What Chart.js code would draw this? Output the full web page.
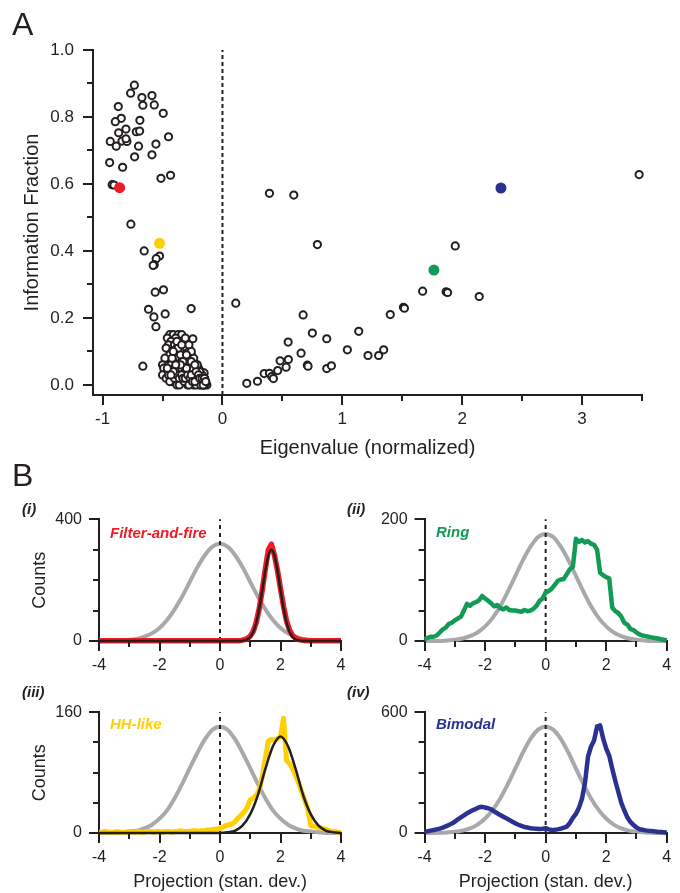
<!DOCTYPE html>
<html><head><meta charset="utf-8">
<script src="https://cdn.jsdelivr.net/npm/chart.js@4.4.1/dist/chart.umd.min.js"></script>
<style>
html,body{margin:0;padding:0;background:#fff;}
#fig{position:relative;width:680px;height:893px;overflow:hidden;font-family:"Liberation Sans",Arial,Helvetica,sans-serif;color:#231f20;}
canvas{position:absolute;}
.lbl{position:absolute;line-height:1;white-space:nowrap;z-index:5;}
.big{font-size:32px;}
.sub{font-size:15px;font-weight:bold;font-style:italic;}
</style></head><body>
<div id="fig">
<canvas id="cA" width="680" height="465" style="left:0;top:0"></canvas>
<canvas id="c1" width="350" height="210" style="left:0;top:470px"></canvas>
<canvas id="c2" width="350" height="210" style="left:330px;top:470px"></canvas>
<canvas id="c3" width="350" height="233" style="left:0;top:660px"></canvas>
<canvas id="c4" width="350" height="233" style="left:330px;top:660px"></canvas>
<div class="lbl big" style="left:12px;top:8px">A</div>
<div class="lbl big" style="left:12px;top:459px">B</div>
<div class="lbl sub" style="left:22px;top:501px">(i)</div>
<div class="lbl sub" style="left:347px;top:501px">(ii)</div>
<div class="lbl sub" style="left:22px;top:684px">(iii)</div>
<div class="lbl sub" style="left:347px;top:684px">(iv)</div>
<div class="lbl sub" style="left:110px;top:525px;color:#ee1d25">Filter-and-fire</div>
<div class="lbl sub" style="left:436px;top:524px;color:#139a57">Ring</div>
<div class="lbl sub" style="left:110px;top:716px;color:#ffcf00">HH-like</div>
<div class="lbl sub" style="left:436px;top:716px;color:#2b3190">Bimodal</div>
</div>
<script>
// ---------------- Panel A data ----------------
const eigX = [
 -0.735,-0.766,-0.672,-0.588,-0.869,-0.664,-0.569,-0.494,-0.844,-0.894,-0.689,-0.805,-0.866,-0.719,-0.691,-0.45,-0.936,-0.838,-0.797,-0.886,-0.70,-0.555,-0.805,-0.941,-0.733,-0.588,-0.833,-0.513,-0.433,-0.92,-0.905,
 -0.764,-0.653,-0.525,-0.553,-0.569,-0.578,-0.561,-0.492,-0.617,-0.572,-0.555,-0.478,-0.261,-0.664,-0.247,
 -0.44,-0.41,-0.37,-0.34,-0.46,-0.39,-0.43,-0.36,-0.32,-0.45,-0.40,-0.33,-0.47,-0.38,-0.30,-0.42,-0.35,-0.28,-0.44,-0.32,-0.26,-0.48,-0.39,-0.30,
 -0.41,-0.34,-0.24,-0.27,-0.50,-0.45,-0.36,-0.22,-0.49,-0.38,-0.31,-0.26,-0.20,-0.46,-0.42,-0.33,-0.24,-0.18,-0.50,-0.40,-0.35,-0.28,-0.21,-0.17,
 -0.47,-0.37,-0.30,-0.23,-0.19,-0.15,-0.42,-0.33,-0.26,-0.21,-0.17,-0.14,-0.38,-0.29,-0.24,-0.19,-0.16,-0.13,-0.153,
 -0.43,-0.40,-0.37,-0.34,-0.31,-0.29,-0.27,-0.25,-0.23,-0.22,-0.20,-0.18,-0.16,-0.15,-0.14,-0.17,-0.19,-0.21,-0.24,-0.26,-0.28,-0.31,-0.35,-0.37,-0.42,-0.45,-0.44,-0.36,-0.32,-0.28,-0.22,-0.18,
 -0.40,-0.38,-0.36,-0.34,-0.33,-0.31,-0.29,-0.27,-0.26,-0.25,-0.23,-0.22,-0.20,-0.19,-0.17,-0.16,-0.15,-0.14,-0.30,-0.28,-0.33,-0.35,-0.39,-0.41,-0.43,-0.46,-0.41,-0.38,-0.34,-0.30,-0.26,-0.23,
 0.111,0.392,0.595,0.792,1.942,3.476,1.67,1.866,1.878,2.142,1.51,1.518,1.40,0.673,0.75,1.137,0.87,0.548,1.042,1.345,1.214,1.303,0.656,0.481,0.55,0.531,0.708,0.714,0.87,0.909,0.461,0.348,0.392,0.411,0.425,0.292,0.203
];
const infoY = [
 0.895,0.871,0.858,0.864,0.831,0.835,0.836,0.811,0.796,0.786,0.790,0.764,0.753,0.756,0.758,0.741,0.727,0.728,0.727,0.713,0.713,0.719,0.735,0.664,0.681,0.687,0.650,0.617,0.626,0.598,0.597,
 0.48,0.40,0.385,0.377,0.359,0.357,0.277,0.284,0.226,0.203,0.174,0.212,0.228,0.056,0.138,
 0.15,0.15,0.15,0.15,0.14,0.14,0.13,0.13,0.13,0.12,0.12,0.12,0.11,0.11,0.11,0.10,0.10,0.10,0.09,0.09,0.09,0.08,0.08,0.08,
 0.07,0.07,0.07,0.07,0.06,0.06,0.06,0.06,0.05,0.05,0.05,0.05,0.05,0.04,0.04,0.04,0.04,0.04,0.03,0.03,0.03,0.03,0.03,0.03,
 0.02,0.02,0.02,0.02,0.02,0.02,0.01,0.01,0.01,0.01,0.01,0.01,0.00,0.00,0.00,0.00,0.00,0.00,0.036,
 0.06,0.05,0.04,0.05,0.04,0.06,0.03,0.05,0.03,0.02,0.02,0.01,0.01,0.00,0.005,0.03,0.04,0.06,0.08,0.10,0.12,0.14,0.09,0.11,0.08,0.03,0.01,0.00,0.01,0.00,0.00,0.00,
 0.02,0.03,0.02,0.03,0.02,0.02,0.03,0.02,0.03,0.01,0.01,0.04,0.03,0.02,0.02,0.00,0.02,0.01,0.05,0.07,0.07,0.06,0.06,0.04,0.03,0.05,0.10,0.13,0.12,0.09,0.07,0.06,
 0.244,0.572,0.567,0.419,0.415,0.628,0.28,0.278,0.276,0.264,0.232,0.229,0.21,0.209,0.155,0.16,0.138,0.128,0.105,0.105,0.088,0.088,0.095,0.072,0.076,0.053,0.059,0.056,0.049,0.057,0.043,0.034,0.035,0.025,0.019,0.011,0.005
];
const highlightNames = ['Filter-and-fire','HH-like','Ring','Bimodal'];
const highlightX = [-0.858, -0.525, 1.764, 2.323];
const highlightY = [0.589, 0.423, 0.343, 0.588];
const highlightColors = ['#ee1d25','#ffcf00','#139a57','#2b3190'];

const aXTickVals = [-1,0,1,2,3];
const aXTickLabels = ['-1','0','1','2','3'];
const aXMinor = [-0.5,0.5,1.5,2.5,3.5];
const aYTickVals = [0,0.2,0.4,0.6,0.8,1.0];
const aYTickLabels = ['0.0','0.2','0.4','0.6','0.8','1.0'];
const aYMinor = [0.1,0.3,0.5,0.7,0.9];

// ---------------- Panel B data ----------------
// fine grid: -4 .. 4 step 0.1 (81 bins); coarse grid: -4 .. 4 step 0.25 (33 pts)
const redCounts = [
 1,1,1,1,1,1,1,1,1,1,
 1,1,1,1,1,1,1,1,1,1,
 1,1,1,1,1,1,1,1,1,1,
 1,1,1,1,1,1,1,1,1,1,
 1,1,1,1,1,1,1,2,4,8,
 16,32,62,108,170,238,300,318,282,232,
 172,114,66,36,18,10,5,3,2,1,
 1,1,1,1,1,1,1,1,1,1,1];
const redFit = [
 0,0,0,0,0,0,0,0,0,0,
 0,0,0,0,0,0,0,0,0,0,
 0,0,0,0,0,0,0,0,0,0,
 0,0,0,0,0,0,0,0,0,0,
 0,0,0,0,0,0,0,0,2,5,
 13,30,61,108,169,232,281,300,281,232,
 169,108,61,30,13,5,2,0,0,0,
 0,0,0,0,0,0,0,0,0,0,0];
const greenCounts = [
 3,5,7,7,9,14,19,22,28,30,
 34,37,40,50,61,58,62,64,67,74,
 70,66,62,57,59,54,52,55,51,50,
 50,49,48,51,49,50,53,58,66,70,
 80,82,86,92,99,101,102,110,118,122,
 168,163,166,162,164,160,158,150,112,108,
 105,103,55,49,46,40,30,27,20,18,
 14,11,9,8,7,6,5,4,3,2,1];
const yellowCounts = [
 1,1,2,1,1,1,2,1,1,1,
 2,1,1,2,1,1,2,2,1,2,
 2,1,2,2,1,2,2,3,2,2,
 2,3,3,2,3,3,4,4,5,5,
 6,8,10,11,12,15,20,24,28,34,
 44,46,50,58,75,100,122,124,123,125,
 128,152,96,92,85,76,66,55,44,32,
 10,9,8,7,6,5,3,2,2,1,0];
const yellowFit = [0,0,0,0,0,0,0,0,0,0,0,0,0,0,0,0,0,1,3,10,25,50,85,115,128,115,85,50,25,10,3,1,0];
const blueCounts = [
 7,9,12,15,18,22,27,33,40,47,
 56,68,78,88,98,106,114,120,128,130,
 127,123,117,107,98,89,81,73,65,56,
 48,41,35,30,27,24,22,21,20,21,
 24,18,15,16,18,22,26,32,50,75,
 95,125,170,250,380,430,460,530,535,470,
 420,385,320,260,205,150,112,78,55,40,
 28,19,16,13,11,10,8,6,5,4,3];
const grayI   = [0,0,1,2,4,7,14,25,43,69,104,146,194,242,282,310,320,310,282,242,194,146,104,69,43,25,14,7,4,2,1,0,0];
const grayII  = [0,0,0,1,2,4,8,14,24,38,57,81,107,133,155,171,176,171,155,133,107,81,57,38,24,14,8,4,2,1,0,0,0];
const grayIII = [0,0,0,1,2,3,6,11,19,30,46,65,86,106,124,137,141,137,124,106,86,65,46,30,19,11,6,3,2,1,0,0,0];
const grayIV  = [0,0,1,3,6,12,23,42,72,115,172,243,321,400,468,514,530,514,468,400,321,243,172,115,72,42,23,12,6,3,1,0,0];

const bXTickVals = [-4,-2,0,2,4];
const bXTickLabels = ['-4','-2','0','2','4'];
const bXMinor = [-3,-1,1,3];

const xFine = Array.from({length:81}, (_, i) => Math.round((-4 + i*0.1)*10)/10);
const xCoarse = Array.from({length:33}, (_, i) => -4 + i*0.25);
const pts = (xs, ys) => xs.map((x, i) => ({x, y: ys[i]}));

// ---------------- helpers ----------------
const INK = '#231f20';
const GRAY = '#a7a9ac';
Chart.defaults.font.family = '"Liberation Sans", Arial, Helvetica, sans-serif';
Chart.defaults.color = INK;
Chart.defaults.font.size = 16;

const tickMarks = {
  id: 'tickMarks',
  afterDraw(chart, args, o) {
    if (!o || !o.xMajor) return;
    const ctx = chart.ctx, ca = chart.chartArea;
    const xs = chart.scales.x, ys = chart.scales.y;
    ctx.save();
    ctx.strokeStyle = INK; ctx.lineWidth = 2; ctx.lineCap = 'butt';
    const dx = (vals, len) => vals.forEach(v => {
      const p = Math.round(xs.getPixelForValue(v));
      ctx.beginPath(); ctx.moveTo(p, ca.bottom); ctx.lineTo(p, ca.bottom + len); ctx.stroke();
    });
    const dy = (vals, len) => vals.forEach(v => {
      const p = Math.round(ys.getPixelForValue(v));
      ctx.beginPath(); ctx.moveTo(ca.left, p); ctx.lineTo(ca.left - len, p); ctx.stroke();
    });
    dx(o.xMajor, o.majorLen); dx(o.xMinor, o.minorLen);
    dy(o.yMajor, o.majorLen); dy(o.yMinor, o.minorLen);
    ctx.restore();
  }
};
Chart.register(tickMarks);

function axis(o) {
  // x axes: label offset comes from an invisible tick length so it does not widen the side padding
  const grid = o.isY
    ? {display: true, drawOnChartArea: false, drawTicks: false, lineWidth: 2, color: INK}
    : {display: true, drawOnChartArea: false, drawTicks: true, tickLength: o.pad, tickColor: 'rgba(0,0,0,0)', lineWidth: 2, color: INK};
  return {
    type: 'linear', min: o.min, max: o.max,
    afterBuildTicks: s => { s.ticks = o.vals.map(v => ({value: v})); },
    afterFit: s => { if (o.isY) s.width = o.fit; else s.height = o.fit; },
    ticks: {autoSkip: false, maxRotation: 0, minRotation: 0, padding: o.isY ? o.pad : 0,
            font: {size: o.size || 16}, color: INK, callback: (v, i) => o.labels[i]},
    grid,
    border: {display: true, color: INK, width: 2},
    title: o.title ? {display: true, text: o.title, color: INK, font: {size: o.titleSize || 18}, padding: o.titlePad} : {display: false}
  };
}

const common = {
  responsive: false, animation: false, devicePixelRatio: 1, events: [],
  plugins: {legend: {display: false}, tooltip: {enabled: false}}
};

// ---------------- Panel A ----------------
new Chart(document.getElementById('cA'), {
  type: 'scatter',
  data: {datasets: [
    {label: 'highlight', data: pts(highlightX, highlightY), pointRadius: 5.5, pointBorderWidth: 0,
     pointBackgroundColor: highlightColors, pointBorderColor: highlightColors, order: 1},
    {label: 'cells', data: pts(eigX, infoY), pointRadius: 3.6, pointBorderWidth: 2,
     pointBackgroundColor: '#fff', pointBorderColor: INK, order: 2, clip: false},
    {type: 'line', label: 'zero', data: [{x: 0, y: -0.03}, {x: 0, y: 1.0}], borderColor: INK,
     borderWidth: 2, borderDash: [4, 3], pointRadius: 0, order: 3}
  ]},
  options: Object.assign({}, common, {
    layout: {padding: {left: 0, top: 50, right: 38, bottom: 0}},
    plugins: Object.assign({}, common.plugins, {tickMarks: {xMajor: aXTickVals, xMinor: aXMinor, yMajor: aYTickVals, yMinor: aYMinor, majorLen: 10, minorLen: 6}}),
    scales: {
      x: axis({min: -1.08, max: 3.5, vals: aXTickVals, labels: aXTickLabels, pad: 14, fit: 70, size: 17,
               title: 'Eigenvalue (normalized)', titleSize: 20, titlePad: {top: 0, bottom: 5}}),
      y: axis({isY: true, min: -0.03, max: 1.0, vals: aYTickVals, labels: aYTickLabels, pad: 19, fit: 93, size: 17,
               title: 'Information Fraction', titleSize: 20, titlePad: {top: 20, bottom: 0}})
    }
  })
});

// ---------------- Panel B ----------------
function panelB(id, cfg) {
  const ds = [];
  if (cfg.fit) ds.push({data: cfg.fit, borderColor: INK, borderWidth: 2.5, pointRadius: 0,
                        cubicInterpolationMode: 'monotone', clip: false, order: 1});
  ds.push({data: cfg.trace, borderColor: cfg.color, borderWidth: cfg.traceW || 4.5, pointRadius: 0,
           tension: 0, clip: false, order: 2, borderJoinStyle: 'round'});
  ds.push({data: [{x: 0, y: 0}, {x: 0, y: cfg.ymax}], borderColor: INK, borderWidth: 2,
           borderDash: [4, 4], pointRadius: 0, clip: false, order: 3});
  ds.push({data: cfg.gray, borderColor: GRAY, borderWidth: 4, pointRadius: 0,
           cubicInterpolationMode: 'monotone', clip: false, order: 4});
  new Chart(document.getElementById(id), {
    type: 'line',
    data: {datasets: ds},
    options: Object.assign({}, common, {
      layout: {padding: {left: 0, top: cfg.padTop, right: cfg.padRight, bottom: 0}},
      plugins: Object.assign({}, common.plugins, {tickMarks: {xMajor: bXTickVals, xMinor: bXMinor,
        yMajor: cfg.yVals, yMinor: cfg.yMinor, majorLen: 10, minorLen: 6}}),
      scales: {
        x: axis({min: -4, max: 4, vals: bXTickVals, labels: bXTickLabels, pad: 15, fit: cfg.xFit,
                 title: cfg.xTitle, titleSize: 18, titlePad: {top: 0, bottom: 0}}),
        y: axis({isY: true, min: 0, max: cfg.ymax, vals: cfg.yVals, labels: cfg.yLabels, pad: 17, fit: cfg.yFit,
                 title: cfg.yTitle, titleSize: 18, titlePad: {top: 29, bottom: 0}})
      }
    })
  });
}

panelB('c1', {ymax: 400, yVals: [0, 400], yLabels: ['0', '400'], yMinor: [100, 200, 300],
  trace: pts(xFine, redCounts), fit: pts(xFine, redFit), gray: pts(xCoarse, grayI), color: '#ee1d25', traceW: 5.5,
  padTop: 49.3, padRight: 9, yFit: 99, xFit: 39, yTitle: 'Counts'});
panelB('c2', {ymax: 200, yVals: [0, 200], yLabels: ['0', '200'], yMinor: [50, 100, 150],
  trace: pts(xFine, greenCounts), gray: pts(xCoarse, grayII), color: '#139a57',
  padTop: 49.3, padRight: 13.3, yFit: 94.6, xFit: 39});
panelB('c3', {ymax: 160, yVals: [0, 160], yLabels: ['0', '160'], yMinor: [40, 80, 120],
  trace: pts(xFine, yellowCounts), fit: pts(xCoarse, yellowFit), gray: pts(xCoarse, grayIII), color: '#ffcf00', traceW: 5,
  padTop: 52.3, padRight: 9, yFit: 99, xFit: 60, yTitle: 'Counts', xTitle: 'Projection (stan. dev.)'});
panelB('c4', {ymax: 600, yVals: [0, 600], yLabels: ['0', '600'], yMinor: [150, 300, 450],
  trace: pts(xFine, blueCounts), gray: pts(xCoarse, grayIV), color: '#2b3190',
  padTop: 52.3, padRight: 13.3, yFit: 94.6, xFit: 60, xTitle: 'Projection (stan. dev.)'});
</script>
</body></html>
